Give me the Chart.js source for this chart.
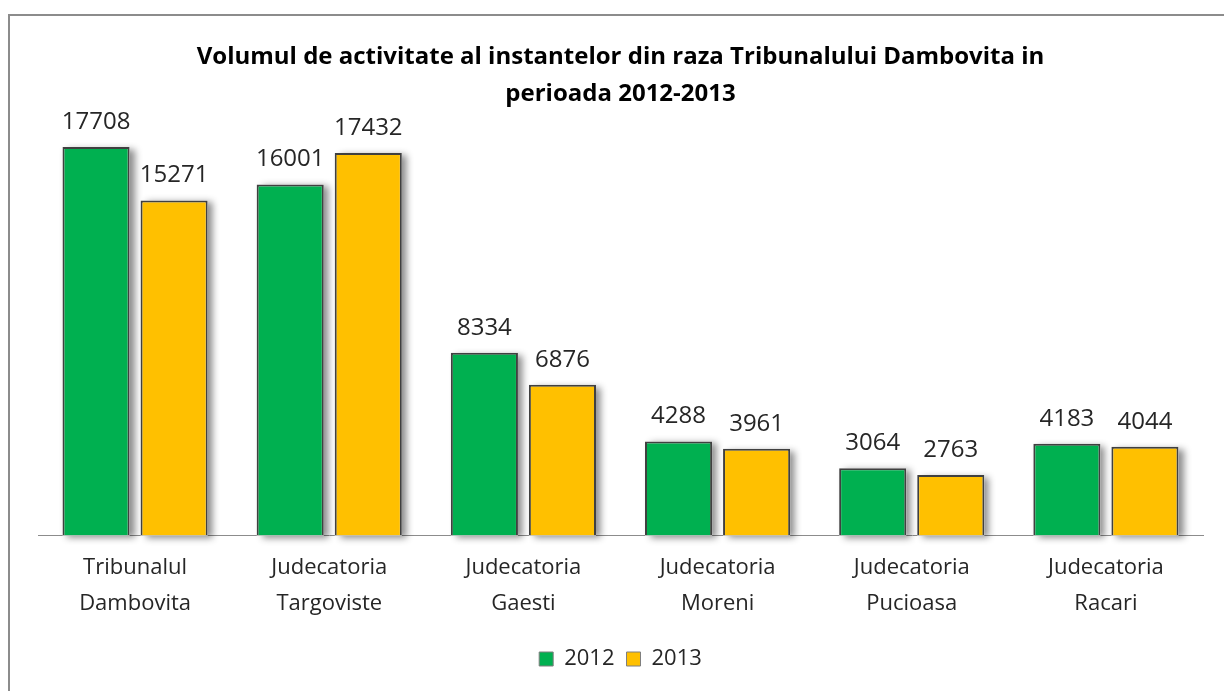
<!DOCTYPE html>
<html>
<head>
<meta charset="utf-8">
<script src="https://cdn.jsdelivr.net/npm/chart.js@4.4.0/dist/chart.umd.min.js"></script>
<style>
  html, body { margin: 0; padding: 0; background: #fff; overflow: hidden; }
  #wrap { position: relative; width: 1224px; height: 691px; }
  #frame { position: absolute; left: 8px; top: 14px; width: 1300px; height: 800px;
           border: 2px solid #8c8c8c; box-sizing: border-box; }
  #chart { position: absolute; left: 0; top: 0; }
</style>
</head>
<body>
<div id="wrap">
  <div id="frame"></div>
  <canvas id="chart" width="1224" height="691"></canvas>
</div>
<script>
// data
const categories = [
  ["Tribunalul", "Dambovita"],
  ["Judecatoria", "Targoviste"],
  ["Judecatoria", "Gaesti"],
  ["Judecatoria", "Moreni"],
  ["Judecatoria", "Pucioasa"],
  ["Judecatoria", "Racari"]
];
const seriesNames = ["2012", "2013"];
const values2012 = [17708, 16001, 8334, 4288, 3064, 4183];
const values2013 = [15271, 17432, 6876, 3961, 2763, 4044];
const titleLines = ["Volumul de activitate al instantelor din raza Tribunalului Dambovita in", "perioada 2012-2013"];

const FONT = "'Open Sans', sans-serif";

// soft drop shadow behind each bar (bar element clips its own shadow, so paint it first)
const barShadow = {
  id: "barShadow",
  beforeDatasetsDraw(chart) {
    const ctx = chart.ctx;
    ctx.save();
    ctx.shadowColor = "rgba(0,0,0,0.45)";
    ctx.shadowBlur = 7;
    ctx.shadowOffsetX = 5;
    ctx.shadowOffsetY = 2;
    ctx.fillStyle = "#ffffff";
    chart.data.datasets.forEach(function (ds, i) {
      chart.getDatasetMeta(i).data.forEach(function (bar) {
        const p = bar.getProps(["x", "y", "base", "width"], true);
        ctx.fillRect(p.x - p.width / 2, p.y, p.width, p.base - p.y);
      });
    });
    ctx.restore();
  }
};

// value above each bar
const valueLabels = {
  id: "valueLabels",
  afterDraw(chart) {
    const ctx = chart.ctx;
    ctx.save();
    ctx.font = "24px " + FONT;
    ctx.fillStyle = "#262626";
    ctx.textAlign = "center";
    ctx.textBaseline = "middle";
    chart.data.datasets.forEach(function (ds, i) {
      chart.getDatasetMeta(i).data.forEach(function (bar, j) {
        ctx.fillText(String(ds.data[j]), bar.x, bar.y - 25);
      });
    });
    ctx.restore();
  }
};

new Chart(document.getElementById("chart"), {
  type: "bar",
  data: {
    labels: categories,
    datasets: [
      {
        label: seriesNames[0],
        data: values2012,
        backgroundColor: "#00B050",
        borderColor: "#404040",
        borderWidth: 2,
        borderSkipped: "bottom",
        categoryPercentage: 0.804,
        barPercentage: 0.86
      },
      {
        label: seriesNames[1],
        data: values2013,
        backgroundColor: "#FFC000",
        borderColor: "#404040",
        borderWidth: 2,
        borderSkipped: "bottom",
        categoryPercentage: 0.804,
        barPercentage: 0.86
      }
    ]
  },
  options: {
    responsive: false,
    animation: false,
    layout: { padding: { left: 38, right: 21, top: 0, bottom: 11 } },
    scales: {
      x: {
        grid: { display: false, drawTicks: false },
        border: { display: true, color: "#8c8c8c", width: 1 },
        ticks: {
          color: "#262626",
          padding: 15,
          font: { family: FONT, size: 22, lineHeight: 1.6 }
        }
      },
      y: {
        display: false,
        min: 0,
        max: 19260
      }
    },
    plugins: {
      title: {
        display: true,
        text: titleLines,
        color: "#000",
        padding: { top: 39, bottom: 0 },
        font: { family: FONT, size: 24, weight: "bold", lineHeight: 1.54 }
      },
      legend: {
        position: "bottom",
        labels: {
          color: "#262626",
          boxWidth: 14,
          boxHeight: 14,
          padding: 12,
          font: { family: FONT, size: 22 },
          generateLabels: function (chart) {
            const items = Chart.defaults.plugins.legend.labels.generateLabels(chart);
            items.forEach(function (it) {
              it.lineWidth = 1;
              it.strokeStyle = "#7f7f7f";
            });
            return items;
          }
        }
      },
      tooltip: { enabled: false }
    }
  },
  plugins: [barShadow, valueLabels]
});
</script>
</body>
</html>
